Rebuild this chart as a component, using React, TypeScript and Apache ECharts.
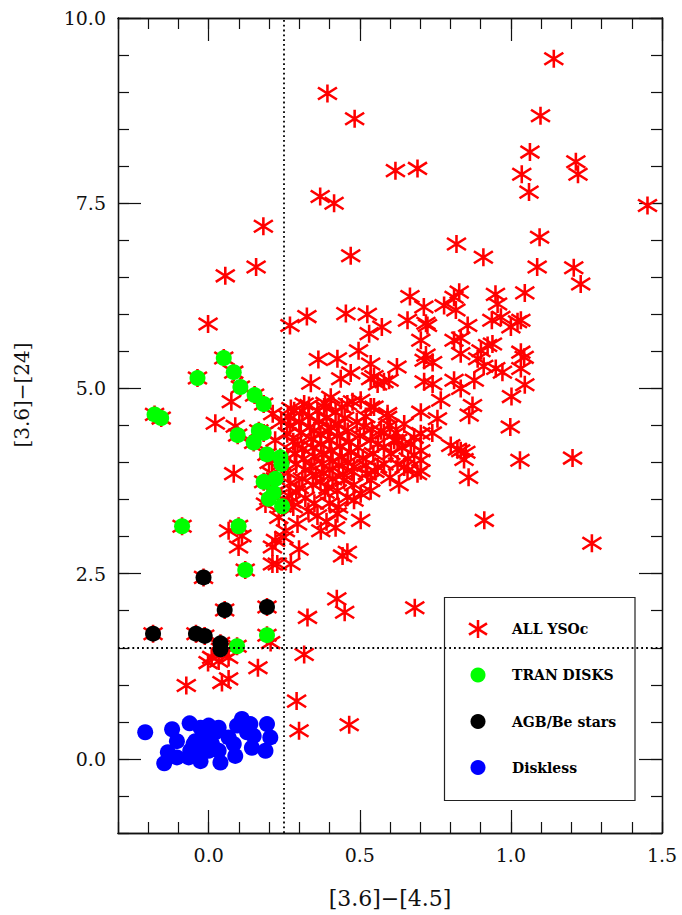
import React, { useEffect, useRef } from 'react';
import * as echarts from 'echarts';

// ---------- data ----------
const xMajorTicks = [0, 0.5, 1.0, 1.5];
const yMajorTicks = [0, 2.5, 5.0, 7.5, 10.0];
const xCut = 0.25;
const yCut = 1.5;

const legendNames = ['ALL YSOc', 'TRAN DISKS', 'AGB/Be stars', 'Diskless'];

// all YSO candidates (red asterisks), not counting those under green/black dots
const allYSOc: number[][] = [
  [1.142, 9.45], [0.393, 8.98], [0.483, 8.64], [1.098, 8.68], [1.063, 8.19], [0.618, 7.94], [0.691, 7.97],
  [1.036, 7.89], [1.215, 8.06], [1.222, 7.89], [1.06, 7.65], [0.369, 7.59], [0.415, 7.5], [1.452, 7.47],
  [0.181, 7.19], [1.095, 7.04], [0.82, 6.95], [0.909, 6.77], [0.47, 6.79], [1.087, 6.64], [1.208, 6.63],
  [1.231, 6.41], [0.157, 6.64], [0.055, 6.52], [0.666, 6.24], [0.829, 6.3], [0.949, 6.27], [1.046, 6.29],
  [-0.002, 5.87], [0.269, 5.85], [0.325, 5.97], [0.454, 6.01], [0.525, 6.0], [0.531, 5.74], [0.573, 5.83],
  [0.658, 5.92], [0.712, 6.1], [0.702, 5.65], [0.719, 5.88], [0.779, 6.12], [0.812, 6.23], [0.818, 6.06],
  [0.956, 6.14], [0.857, 5.85], [0.937, 5.92], [0.967, 5.96], [1.0, 5.83], [1.022, 5.9], [1.033, 5.92],
  [0.724, 5.85], [0.812, 5.65], [0.834, 5.68], [0.834, 5.47], [0.901, 5.51], [0.923, 5.58], [0.939, 5.6],
  [1.033, 5.49], [1.044, 5.42], [0.713, 5.38], [0.741, 5.35], [0.89, 5.4], [0.95, 5.27], [0.972, 5.22],
  [1.033, 5.27], [0.713, 5.09], [0.741, 5.06], [0.812, 5.11], [0.834, 5.0], [0.879, 5.11], [1.046, 5.05],
  [1.002, 4.89], [0.768, 4.84], [0.873, 4.77], [0.702, 4.68], [0.757, 4.59], [0.862, 4.64], [0.998, 4.48],
  [0.702, 4.39], [0.801, 4.23], [0.823, 4.18], [0.851, 4.14], [0.845, 4.04], [0.702, 4.03], [1.03, 4.03],
  [1.204, 4.06], [0.86, 3.8], [0.702, 3.89], [0.496, 5.51], [0.363, 5.39], [0.426, 5.4], [0.536, 5.33],
  [0.623, 5.29], [0.338, 5.07], [0.437, 5.13], [0.47, 5.21], [0.536, 5.13], [0.559, 5.06], [0.597, 5.11],
  [0.272, 4.73], [0.332, 4.77], [0.404, 4.88], [0.476, 4.82], [0.536, 4.75], [0.592, 4.61], [0.719, 5.45],
  [0.547, 5.16], [0.58, 5.09], [0.91, 5.3], [0.283, 4.7], [0.316, 4.79], [0.382, 4.75], [0.459, 4.79],
  [0.503, 4.84], [0.547, 4.75], [0.592, 4.66], [0.647, 4.52], [0.68, 4.34], [0.702, 4.16], [0.834, 4.16],
  [0.647, 3.94], [0.603, 4.12], [0.625, 4.3], [0.58, 4.21], [0.536, 3.76], [0.503, 3.58], [0.459, 3.53],
  [0.503, 3.22], [0.426, 3.31], [0.371, 3.08], [0.294, 3.17], [0.249, 2.99], [0.912, 3.22], [1.268, 2.91],
  [0.26, 4.39], [0.294, 4.25], [0.349, 4.43], [0.404, 4.48], [0.514, 4.48], [0.536, 4.3], [0.57, 4.43],
  [0.614, 4.3], [0.669, 4.25], [0.625, 3.98], [0.658, 3.89], [0.691, 3.85], [0.559, 3.94], [0.525, 3.85],
  [0.481, 3.94], [0.448, 3.76], [0.426, 3.62], [0.481, 3.49], [0.536, 3.62], [0.299, 2.83], [0.443, 2.74],
  [0.459, 2.79], [0.227, 2.63], [0.272, 2.63], [0.327, 1.91], [0.424, 2.16], [0.45, 1.98], [0.682, 2.04],
  [0.205, 1.57], [0.316, 1.41], [0.291, 0.78], [0.299, 0.38], [0.465, 0.46], [-0.002, 1.3], [0.033, 1.32],
  [0.066, 1.37], [0.163, 1.23], [-0.074, 0.99], [0.044, 1.03], [0.066, 1.08], [0.044, 1.42], [0.01, 1.37],
  [0.075, 4.82], [0.212, 4.66], [0.022, 4.53], [0.088, 4.49], [0.083, 3.85], [0.188, 3.44], [0.232, 3.26],
  [0.066, 3.08], [0.11, 3.01], [0.099, 2.86], [0.254, 3.08], [0.221, 2.95], [0.211, 2.86], [0.211, 2.63],
  [0.262, 4.62], [0.27, 4.5], [0.28, 4.28], [0.285, 4.12], [0.29, 3.98], [0.262, 3.86], [0.27, 3.72],
  [0.29, 3.6], [0.275, 3.47], [0.3, 4.55], [0.305, 4.4], [0.31, 4.18], [0.315, 4.05], [0.32, 3.9],
  [0.31, 3.78], [0.3, 3.66], [0.32, 3.52], [0.33, 4.62], [0.335, 4.48], [0.34, 4.32], [0.345, 4.2],
  [0.35, 4.08], [0.34, 3.95], [0.355, 3.84], [0.345, 3.7], [0.35, 3.45], [0.36, 4.7], [0.365, 4.55],
  [0.37, 4.38], [0.372, 4.25], [0.38, 4.12], [0.375, 3.98], [0.38, 3.86], [0.37, 3.74], [0.385, 3.6],
  [0.39, 4.6], [0.395, 4.42], [0.4, 4.3], [0.405, 4.16], [0.41, 4.02], [0.4, 3.9], [0.41, 3.78],
  [0.395, 3.66], [0.42, 4.68], [0.43, 4.52], [0.425, 4.36], [0.435, 4.22], [0.44, 4.08], [0.43, 3.96],
  [0.445, 3.84], [0.45, 4.6], [0.46, 4.42], [0.465, 4.28], [0.47, 4.14], [0.46, 4.0], [0.475, 3.88],
  [0.49, 4.55], [0.5, 4.36], [0.495, 4.2], [0.51, 4.06], [0.52, 3.96], [0.48, 3.7], [0.52, 4.62],
  [0.54, 4.45], [0.545, 4.12], [0.31, 4.7], [0.28, 3.4], [0.33, 3.34], [0.36, 3.28], [0.4, 3.45],
  [0.26, 4.05], [0.265, 3.55], [0.385, 4.8], [0.44, 4.75], [0.58, 4.4], [0.6, 4.5], [0.56, 4.25],
  [0.58, 3.98], [0.55, 3.88], [0.6, 3.8], [0.43, 3.4], [0.39, 3.2], [0.42, 3.12], [0.62, 4.4],
  [0.64, 4.2], [0.66, 4.05], [0.63, 3.7], [0.68, 4.1], [0.74, 4.4], [0.22, 4.3], [0.2, 4.0],
  [0.23, 3.55], [0.21, 3.85], [0.24, 4.55],
];

// transition disks (green)
const tranDisks: number[][] = [
  [0.05, 5.41], [-0.037, 5.14], [0.083, 5.22], [0.105, 5.02], [0.152, 4.91], [0.182, 4.79], [-0.179, 4.65],
  [-0.157, 4.6], [0.096, 4.37], [0.166, 4.43], [0.182, 4.4], [0.149, 4.27], [0.193, 4.11], [0.237, 4.07],
  [0.241, 3.98], [0.182, 3.74], [0.221, 3.78], [0.215, 3.59], [0.199, 3.51], [0.243, 3.41], [-0.088, 3.14],
  [0.099, 3.14], [0.121, 2.55], [0.193, 1.67], [0.094, 1.52],
];

// AGB / Be stars (black)
const agbBe: number[][] = [
  [-0.017, 2.45], [0.053, 2.01], [0.193, 2.05], [-0.184, 1.69], [-0.042, 1.69], [-0.013, 1.66],
  [0.039, 1.56], [0.039, 1.48],
];

// diskless (blue)
const diskless: number[][] = [
  [-0.21, 0.36], [-0.121, 0.4], [-0.105, 0.24], [-0.135, 0.09], [-0.147, -0.06], [-0.105, 0.02],
  [-0.063, 0.48], [-0.061, 0.11], [-0.044, 0.24], [-0.066, 0.02], [-0.027, 0.42], [0.0, 0.45],
  [-0.017, 0.29], [-0.022, 0.11], [-0.027, -0.03], [0.022, 0.36], [0.033, 0.42], [0.011, 0.2],
  [0.033, 0.11], [0.039, -0.05], [0.066, 0.29], [0.083, 0.2], [0.088, 0.04], [0.094, 0.45],
  [0.11, 0.54], [0.138, 0.47], [0.149, 0.31], [0.143, 0.15], [0.193, 0.47], [0.204, 0.29],
  [0.188, 0.11], [0.127, 0.36], [0.0, 0.11], [-0.05, 0.2],
];

// ---------- styles ----------
const W = 682;
const H = 915;
const GRID = { left: 118, right: 20, top: 18, bottom: 82 };
const RED = '#ff0000';
const GREEN = '#00ff00';
const BLUE = '#0000ff';
const BLACK = '#000000';
const STAR = 'path://M10,0L10,20M0,3.3L20,16.7M0,16.7L20,3.3';
const AXIS_COLOR = '#111';
const TICK_FONT = 'DejaVu Serif';

function frameAxis(kind: 'x' | 'y', position: string, major: boolean, showLabel: boolean) {
  const isX = kind === 'x';
  const base: any = {
    type: 'value',
    position,
    min: isX ? -0.3 : -1,
    max: isX ? 1.5 : 10,
    interval: isX ? 0.1 : 0.5,
    axisLine: { show: true, onZero: false, lineStyle: { color: AXIS_COLOR, width: 1.3 } },
    splitLine: { show: false },
    axisTick: {
      show: true,
      inside: true,
      length: major ? 23 : 11,
      lineStyle: { color: AXIS_COLOR, width: 1.2 },
    },
    axisLabel: { show: false },
  };
  if (major) {
    base.axisTick.customValues = isX ? xMajorTicks : yMajorTicks;
    if (showLabel) {
      base.axisLabel = {
        show: true,
        customValues: isX ? xMajorTicks : yMajorTicks,
        formatter: (v: number) => v.toFixed(1),
        fontFamily: TICK_FONT,
        fontSize: 19,
        color: '#111',
        margin: 12,
      };
    }
  }
  return base;
}

function legendGraphics() {
  const cx = 478;
  const rows = [629, 675, 721.5, 767.5];
  const textX = 512;
  const els: any[] = [
    {
      type: 'rect',
      shape: { x: 444.5, y: 597.5, width: 190.5, height: 203 },
      style: { fill: 'none', stroke: '#222', lineWidth: 1.2 },
      silent: true,
      z: 100,
    },
  ];
  // asterisk icon
  const r = 9;
  const starLines = [
    [0, -r, 0, r],
    [-r, -0.62 * r, r, 0.62 * r],
    [-r, 0.62 * r, r, -0.62 * r],
  ];
  starLines.forEach((l) => {
    els.push({
      type: 'line',
      shape: { x1: cx + l[0], y1: rows[0] + l[1], x2: cx + l[2], y2: rows[0] + l[3] },
      style: { stroke: RED, lineWidth: 2.5 },
      silent: true,
      z: 100,
    });
  });
  const colors = [GREEN, BLACK, BLUE];
  colors.forEach((c, i) => {
    els.push({
      type: 'circle',
      shape: { cx, cy: rows[i + 1], r: 7.5 },
      style: { fill: c },
      silent: true,
      z: 100,
    });
  });
  legendNames.forEach((n, i) => {
    els.push({
      type: 'text',
      x: textX,
      y: rows[i],
      style: {
        text: n,
        fontFamily: 'DejaVu Serif',
        fontWeight: 'bold',
        fontSize: 14,
        fill: '#000',
        align: 'left',
        verticalAlign: 'middle',
      },
      silent: true,
      z: 100,
    });
  });
  return els;
}

export default function App() {
  const ref = useRef<HTMLDivElement>(null);

  useEffect(() => {
    if (!ref.current) return;
    const chart = echarts.init(ref.current, undefined, { renderer: 'svg', width: W, height: H });

    const option: any = {
      animation: false,
      backgroundColor: '#ffffff',
      grid: { ...GRID, containLabel: false },
      xAxis: [
        frameAxis('x', 'bottom', false, false),
        frameAxis('x', 'bottom', true, true),
        frameAxis('x', 'top', false, false),
        frameAxis('x', 'top', true, false),
      ],
      yAxis: [
        frameAxis('y', 'left', false, false),
        frameAxis('y', 'left', true, true),
        frameAxis('y', 'right', false, false),
        frameAxis('y', 'right', true, false),
      ],
      series: [
        {
          name: legendNames[0],
          type: 'scatter',
          xAxisIndex: 0,
          yAxisIndex: 0,
          data: [...allYSOc, ...tranDisks, ...agbBe],
          symbol: STAR,
          symbolSize: [19, 18],
          itemStyle: { color: 'rgba(0,0,0,0)', borderColor: RED, borderWidth: 2.5, opacity: 1 },
          z: 2,
          silent: true,
        },
        {
          name: legendNames[3],
          type: 'scatter',
          xAxisIndex: 0,
          yAxisIndex: 0,
          data: diskless,
          symbol: 'circle',
          symbolSize: 16,
          itemStyle: { color: BLUE, opacity: 1 },
          z: 3,
          silent: true,
        },
        {
          name: legendNames[1],
          type: 'scatter',
          xAxisIndex: 0,
          yAxisIndex: 0,
          data: tranDisks,
          symbol: 'circle',
          symbolSize: 16,
          itemStyle: { color: GREEN, opacity: 1 },
          z: 3,
          silent: true,
        },
        {
          name: legendNames[2],
          type: 'scatter',
          xAxisIndex: 0,
          yAxisIndex: 0,
          data: agbBe,
          symbol: 'circle',
          symbolSize: 16,
          itemStyle: { color: BLACK, opacity: 1 },
          z: 4,
          silent: true,
          markLine: {
            silent: true,
            symbol: ['none', 'none'],
            label: { show: false },
            lineStyle: { color: '#000', width: 1.8, type: [1.8, 3], opacity: 1 },
            data: [{ xAxis: xCut }, { yAxis: yCut }],
          },
        },
      ],
      graphic: [
        {
          type: 'text',
          x: 390,
          y: 898,
          style: {
            text: '[3.6]\u2212[4.5]',
            fontFamily: 'DejaVu Serif',
            fontSize: 22,
            fill: '#111',
            align: 'center',
            verticalAlign: 'middle',
          },
          silent: true,
        },
        {
          type: 'text',
          x: 22,
          y: 395,
          rotation: Math.PI / 2,
          style: {
            text: '[3.6]\u2212[24]',
            fontFamily: 'DejaVu Serif',
            fontSize: 20,
            fill: '#111',
            align: 'center',
            verticalAlign: 'middle',
          },
          silent: true,
        },
        ...legendGraphics(),
      ],
    };

    chart.setOption(option);
    return () => {
      chart.dispose();
    };
  }, []);

  return (
    <div
      ref={ref}
      style={{ position: 'fixed', left: 0, top: 0, width: W, height: H, background: '#fff' }}
    />
  );
}
